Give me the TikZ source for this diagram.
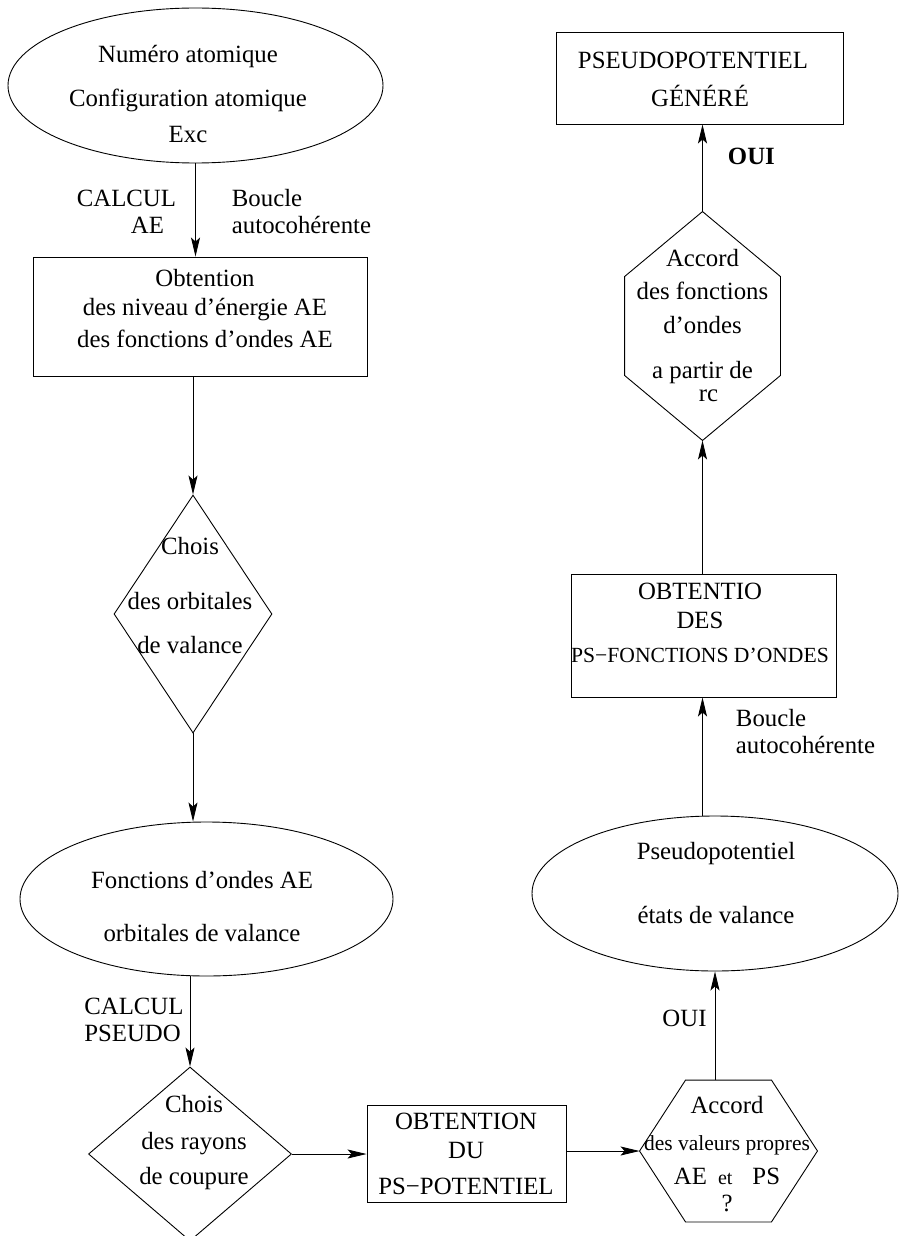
\documentclass[tikz,border=0pt]{standalone}
\usepackage{fontspec}
\setmainfont{Liberation Serif}
\usetikzlibrary{shapes.geometric,arrows.meta}

\tikzset{
  oval/.style={ellipse,draw,inner sep=0pt},
  boite/.style={rectangle,draw,inner sep=0pt},
  losange/.style={diamond,draw,inner sep=0pt},
  hexa/.style={rectangle,inner sep=0pt},
  txt/.style={align=center,inner sep=0pt},
  etiq/.style={inner sep=0pt},
  fleche/.style={-{Stealth[length=19pt,width=9pt,inset=4pt]}}
}

\begin{document}
\begin{tikzpicture}[x=1pt,y=-1pt,line width=0.9pt,font=\fontsize{24.8}{27}\selectfont]
  \useasboundingbox (0,0) rectangle (898,1236);

  %colonne gauche : calcul AE
	\node[oval,minimum width=375pt,minimum height=155pt] (e1) at (195.5,85.5) {};
	\node[txt] (te1) at (188,93.5) {Numéro atomique\\[17pt]Configuration atomique\\[9pt]Exc};

	\node[boite,minimum width=334pt,minimum height=119pt] (b1) at (200,316.5) {};
	\node[txt] (tb1) at (205,309) {Obtention\\[2pt]des niveau d’énergie AE\\[5pt]des fonctions d’ondes AE};

	\node[losange,minimum width=158pt,minimum height=238pt] (d1) at (193,614) {};
	\node[txt] (td1) at (190,596) {Chois\\[28pt]des orbitales\\[17pt]de valance};

	\node[oval,minimum width=373pt,minimum height=154pt] (e2) at (206.5,899) {};
	\node[txt] (te2) at (202,907) {Fonctions d’ondes AE\\[26pt]orbitales de valance};

  %ligne du bas
	\node[losange,minimum width=203pt,minimum height=174pt] (d2) at (190,1154) {};
	\node[txt] (td2) at (194,1143) {Chois\\[10pt]des rayons\\[8pt]de coupure};

	\node[boite,minimum width=199pt,minimum height=97pt] (b3) at (466.5,1153.5) {};
	\node[txt] (tb3) at (466,1154) {OBTENTION\\[2pt]DU\\[9pt]PS−POTENTIEL};

	\node[hexa,minimum width=177pt,minimum height=141pt] (h2) at (728.5,1151) {};
	\draw (h2.west) -- ([xshift=46pt]h2.north west) -- ([xshift=-46pt]h2.north east)
	  -- (h2.east) -- ([xshift=-46pt]h2.south east) -- ([xshift=46pt]h2.south west) -- cycle;
	\node[txt] (th2) at (727,1154.5) {Accord\\[10pt]{\fontsize{21.5}{27}\selectfont des valeurs propres}\\[7pt]AE\hspace{11pt}{\fontsize{20}{27}\selectfont et}\hspace{20pt}PS\\?};

  %colonne droite : pseudo
	\node[oval,minimum width=366pt,minimum height=155pt] (e3) at (715,893.5) {};
	\node[txt] (te3) at (716,883.5) {Pseudopotentiel\\[37pt]états de valance};

	\node[boite,minimum width=265pt,minimum height=123pt] (b4) at (703.5,635.5) {};
	\node[txt] (tb4) at (700,623) {OBTENTIO\\[2pt]DES\\[7pt]{\fontsize{21.6}{27}\selectfont PS−FONCTIONS D’ONDES}};

	\node[hexa,minimum width=155pt,minimum height=228pt] (h1) at (702.5,326) {};
	\draw (h1.north) -- ([yshift=-65pt]h1.north east) -- ([yshift=65pt]h1.south east)
	  -- (h1.south) -- ([yshift=65pt]h1.south west) -- ([yshift=-65pt]h1.north west) -- cycle;
	\node[txt] (th1) at (702.5,326) {Accord\\[6pt]des fonctions\\[7pt]d’ondes\\[18pt]a partir de\\[-4pt]\hspace*{12pt}rc};

	\node[boite,minimum width=287pt,minimum height=92pt] (b5) at (699.5,78) {};
	\node[txt] (tb5) at (693,79.5) {PSEUDOPOTENTIEL\\[11pt]\hspace*{14pt}GÉNÉRÉ};

  %fleches
	\draw[fleche] (e1.south) -- (e1.south |- b1.north)
	  node[etiq,pos=.52,left=19pt,align=right] (lcalc1) {CALCUL\\AE\hspace*{12pt}}
	  node[etiq,pos=.52,right=36pt,align=left] (lboucle1) {Boucle\\autocohérente};
	\draw[fleche] (b1.south -| d1.north) -- (d1.north);
	\draw[fleche] (d1.south) -- (d1.south |- e2.north);
	\draw[fleche] (e2.south -| d2.north) -- (d2.north)
	  node[etiq,pos=.48,left=6pt,align=left] (lcalc2) {CALCUL\\PSEUDO};
	\draw[fleche] (d2.east) -- (d2.east -| b3.west);
	\draw[fleche] (b3.east |- h2.west) -- (h2.west);
	\draw[fleche] (h2.north -| e3.south) -- (e3.south)
	  node[etiq,pos=.57,left=8pt] (loui1) {OUI};
	\draw[fleche] (e3.north -| h1.south) -- (b4.south -| h1.south)
	  node[etiq,pos=.71,right=33pt,align=left] (lboucle2) {Boucle\\autocohérente};
	\draw[fleche] (b4.north -| h1.south) -- (h1.south);
	\draw[fleche] (h1.north) -- (h1.north |- b5.south)
	  node[etiq,pos=.63,right=25pt] (loui2) {\bfseries OUI};
\end{tikzpicture}
\end{document}
